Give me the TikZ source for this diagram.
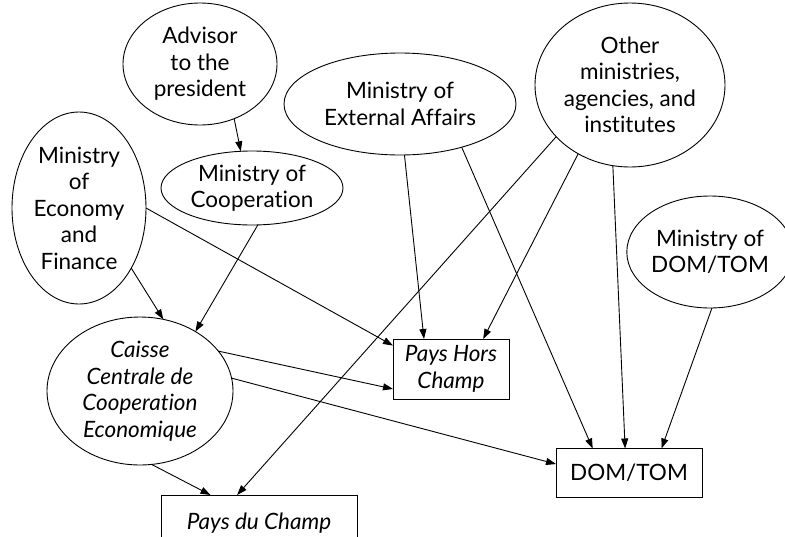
\documentclass[tikz,border=0pt]{standalone}
\usepackage{fontspec}
\setmainfont{Lato}[Ligatures={NoCommon}]
\usetikzlibrary{arrows.meta,shapes.geometric}
\begin{document}
\begin{tikzpicture}[x=1pt,y=-1pt,
  every node/.style={font=\fontsize{22.5}{26.5}\selectfont, align=center, inner sep=0pt, outer sep=0pt},
  ell/.style={draw, ellipse, line width=0.9pt},
  box/.style={draw, rectangle, line width=0.9pt},
  conn/.style={line width=0.9pt, -{Triangle[length=10pt,width=7pt]}}]
\useasboundingbox (0,0) rectangle (785,536);
\node[ell, minimum width=154pt, minimum height=122pt] (adv) at (200,64) {Advisor\\to the\\president};
\node[ell, minimum width=182pt, minimum height=74pt] (coop) at (252,188) {Ministry of\\Cooperation};
\node[ell, minimum width=134pt, minimum height=192pt] (eco) at (79,208) {Ministry\\of\\Economy\\and\\Finance};
\node[ell, minimum width=232pt, minimum height=102pt] (ext) at (400,104) {Ministry of\\External Affairs};
\node[ell, minimum width=190pt, minimum height=164pt] (oth) at (630,85) {Other\\ministries,\\agencies, and\\institutes};
\node[ell, minimum width=146pt, minimum height=112pt] (mdt) at (710,252) {Ministry of\\DOM/TOM};
\node[ell, minimum width=186pt, minimum height=148pt] (ccce) at (140,391) {\itshape Caisse\\\itshape Centrale de\\\itshape Cooperation\\\itshape Economique};
\node[box, minimum width=116pt, minimum height=60pt] (phc) at (451,369) {\itshape Pays Hors\\\itshape Champ};
\node[box, minimum width=146pt, minimum height=49pt] (dt) at (629,473) {DOM/TOM};
\node[box, minimum width=196pt, minimum height=56pt, text depth=0pt] (pdc) at (259,523) {\raisebox{3pt}{\itshape Pays du Champ}};
\draw[conn] (adv.-58) -- (coop.107);
\draw[conn] (coop.-81) -- (ccce.47);
\draw[conn] (eco.-49) -- (ccce.72);
\draw[conn] (eco.0) -- (phc.158);
\draw[conn] (ccce.27) -- (phc.199);
\draw[conn] (ccce.8) -- (dt.173);
\draw[conn] (ccce.-81) -- (pdc.150);
\draw[conn] (oth.215) -- (pdc.128);
\draw[conn] (oth.233) -- (phc.43);
\draw[conn] (oth.258) -- (dt.99);
\draw[conn] (ext.-85) -- (phc.132);
\draw[conn] (ext.-35) -- (dt.146);
\draw[conn] (mdt.-88) -- (dt.37);
\end{tikzpicture}
\end{document}
